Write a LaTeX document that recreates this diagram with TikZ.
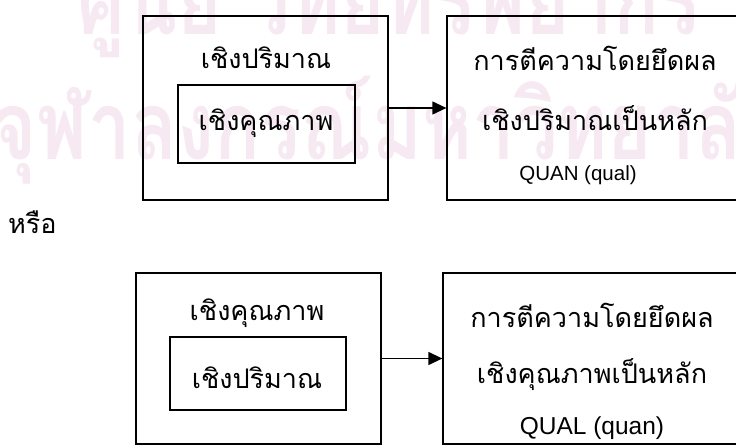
\documentclass[tikz,border=0pt]{standalone}
\usepackage{fontspec}
\setmainfont{Liberation Sans}
\newfontfamily\thaifont[Script=Thai]{Loma}
\usetikzlibrary{arrows.meta}
\definecolor{wmpink}{RGB}{247,233,242}

\tikzset{
  box/.style={draw, line width=1.3pt, inner sep=0pt},
  thtext/.style={font=\thaifont\fontsize{27}{31}\selectfont, inner sep=0pt},
  wmtext/.style={text=wmpink, inner sep=0pt, anchor=base west, font=\thaifont\bfseries\fontsize{95}{95}\selectfont},
  link/.style={line width=1.3pt, -{Triangle[length=14pt,width=13pt]}}
}

\begin{document}
\begin{tikzpicture}[x=1pt,y=-1pt]
      \useasboundingbox (0,0) rectangle (736,446);

      % watermark
      \node[wmtext] (wmtop) at (77,35) {\scalebox{0.8}[1]{ศูนย์ วิทยทรัพยากร}};
      \node[wmtext] (wmbot) at (-8,160) {\scalebox{0.8}[1]{จุฬาลงกรณ์มหาวิทยาลัย}};

      % first case
      \node[box, minimum width=245pt, minimum height=184pt] (quanbox) at (265.5,108) {};
      \node[box, minimum width=177pt, minimum height=78pt] (qualin) at (266.5,124) {};
      \node[thtext] (quanlbl) at (266,58) {เชิงปริมาณ};
      \node[thtext] (qualinlbl) at (266,123) {เชิงคุณภาพ};
      \node[box, minimum width=290pt, minimum height=184pt] (resquan) at (592,108) {};
      \node[thtext] (resquan1) at (595,58) {การตีความโดยยึดผล};
      \node[thtext] (resquan2) at (595,118) {เชิงปริมาณเป็นหลัก};
      \node[font=\fontsize{20.5}{24}\selectfont, inner sep=0pt] (resquan3) at (578,175) {QUAN (qual)};
      \draw[link] (quanbox.east) to (resquan.west);

      \node[thtext, anchor=west] (orlbl) at (8,222) {หรือ};

      % second case
      \node[box, minimum width=245pt, minimum height=171pt] (qualbox) at (258.5,358.5) {};
      \node[box, minimum width=176pt, minimum height=73pt] (quanin) at (258,373.5) {};
      \node[thtext] (quallbl) at (257,313) {เชิงคุณภาพ};
      \node[thtext] (quaninlbl) at (257,378) {เชิงปริมาณ};
      \node[box, minimum width=294pt, minimum height=171pt] (resqual) at (590,358.5) {};
      \node[thtext] (resqual1) at (592,315) {การตีความโดยยึดผล};
      \node[thtext] (resqual2) at (592,375) {เชิงคุณภาพเป็นหลัก};
      \node[font=\fontsize{24.5}{28}\selectfont, inner sep=0pt] (resqual3) at (592,428) {QUAL (quan)};
      \draw[link] (qualbox.east) to (resqual.west);
\end{tikzpicture}
\end{document}
